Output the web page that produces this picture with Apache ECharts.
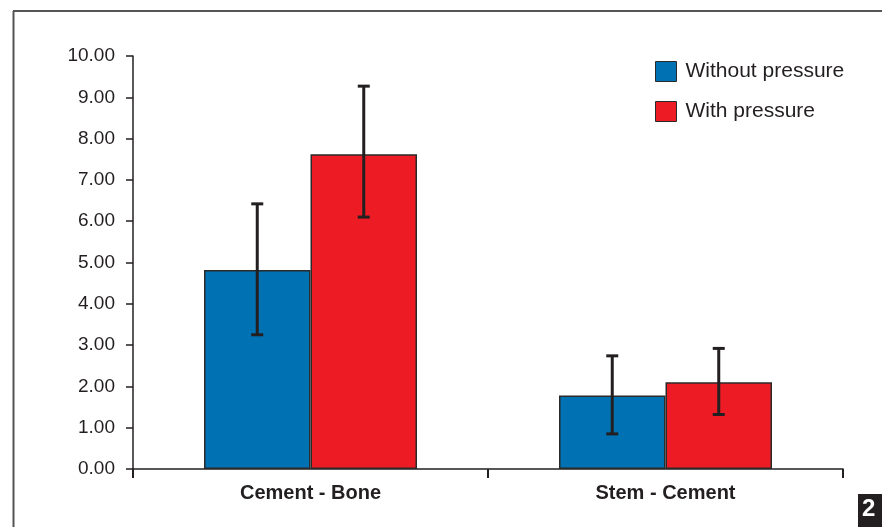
<!DOCTYPE html>
<html>
<head>
<meta charset="utf-8">
<script src="https://cdn.jsdelivr.net/npm/echarts@6/dist/echarts.min.js"></script>
<style>
html, body { margin: 0; padding: 0; background: #fff; }
#chart { width: 882px; height: 527px; }
</style>
</head>
<body>
<div id="chart"></div>
<script>
var categories = ['Cement - Bone', 'Stem - Cement'];
var seriesNames = ['Without pressure', 'With pressure'];
var withoutMean = [4.82, 1.78];
var withoutLow = [3.25, 0.85];
var withoutHigh = [6.42, 2.74];
var withMean = [7.62, 2.10];
var withLow = [6.10, 1.32];
var withHigh = [9.27, 2.92];

var fontFam = '"Liberation Sans", Arial, sans-serif';

function errorSeries(low, high, side) {
	var data = [];
	for (var i = 0; i < low.length; i++) {
		data.push([i, low[i], high[i]]);
	}
	return {
		type: 'custom',
		data: data,
		z: 10,
		renderItem: function(params, api) {
			var cat = api.value(0);
			var bw = api.size([1, 0])[0] * 0.3;
			var lo = api.coord([cat, api.value(1)]);
			var hi = api.coord([cat, api.value(2)]);
			var x = lo[0] + side * bw / 2;
			var style = { stroke: '#231f20', lineWidth: 3 };
			return {
				type: 'group',
				children: [
					{ type: 'line', shape: { x1: x, y1: hi[1], x2: x, y2: lo[1] }, style: style },
					{ type: 'line', shape: { x1: x - 6, y1: hi[1], x2: x + 6, y2: hi[1] }, style: style },
					{ type: 'line', shape: { x1: x - 6, y1: lo[1], x2: x + 6, y2: lo[1] }, style: style }
				]
			};
		}
	};
}

var myChart = echarts.init(document.getElementById('chart'));

var option = {
	animation: false,
	backgroundColor: '#fff',
	graphic: [
		{ type: 'line', shape: { x1: 13.5, y1: 527, x2: 13.5, y2: 11 }, style: { stroke: '#555', lineWidth: 2 } },
		{ type: 'line', shape: { x1: 13, y1: 11, x2: 882, y2: 11 }, style: { stroke: '#555', lineWidth: 2 } },
		{ type: 'rect', shape: { x: 858, y: 494, width: 24, height: 33 }, style: { fill: '#231f20' } },
		{ type: 'text', left: 862, top: 497, style: { text: '2', fill: '#fff', font: 'bold 24px ' + fontFam } }
	],
	legend: {
		data: seriesNames,
		orient: 'vertical',
		left: 655,
		top: 61,
		padding: 0,
		icon: 'rect',
		itemWidth: 21,
		itemHeight: 20,
		itemGap: 19,
		itemStyle: { borderColor: '#2a2a2a', borderWidth: 1 },
		textStyle: { fontSize: 21, color: '#231f20', fontFamily: fontFam, padding: [0, 0, 0, 4] }
	},
	grid: {
		left: 133,
		right: 39,
		top: 56,
		bottom: 58,
		containLabel: false
	},
	xAxis: {
		type: 'category',
		data: categories,
		axisLine: { lineStyle: { color: '#231f20', width: 1.5 } },
		axisTick: { show: true, length: 9, lineStyle: { color: '#231f20', width: 2 } },
		axisLabel: { fontSize: 20, fontWeight: 'bold', color: '#231f20', fontFamily: fontFam, margin: 14 }
	},
	yAxis: {
		type: 'value',
		min: 0,
		max: 10,
		interval: 1,
		splitLine: { show: false },
		axisLine: { show: true, lineStyle: { color: '#231f20', width: 1.5 } },
		axisTick: { show: true, length: 7, lineStyle: { color: '#231f20', width: 1.5 } },
		axisLabel: {
			fontSize: 19,
			color: '#231f20',
			fontFamily: fontFam,
			margin: 18,
			formatter: function(v) { return v.toFixed(2); }
		}
	},
	series: [
		{
			name: seriesNames[0],
			type: 'bar',
			data: withoutMean,
			barWidth: '30%',
			barGap: '0%',
			itemStyle: { color: '#0071b3', borderColor: '#2a2a2a', borderWidth: 1.5 }
		},
		{
			name: seriesNames[1],
			type: 'bar',
			data: withMean,
			barWidth: '30%',
			barGap: '0%',
			itemStyle: { color: '#ed1c24', borderColor: '#2a2a2a', borderWidth: 1.5 }
		},
		errorSeries(withoutLow, withoutHigh, -1),
		errorSeries(withLow, withHigh, 1)
	]
};
myChart.setOption(option);

window.onresize = function() {
	myChart.resize();
};
</script>
</body>
</html>
